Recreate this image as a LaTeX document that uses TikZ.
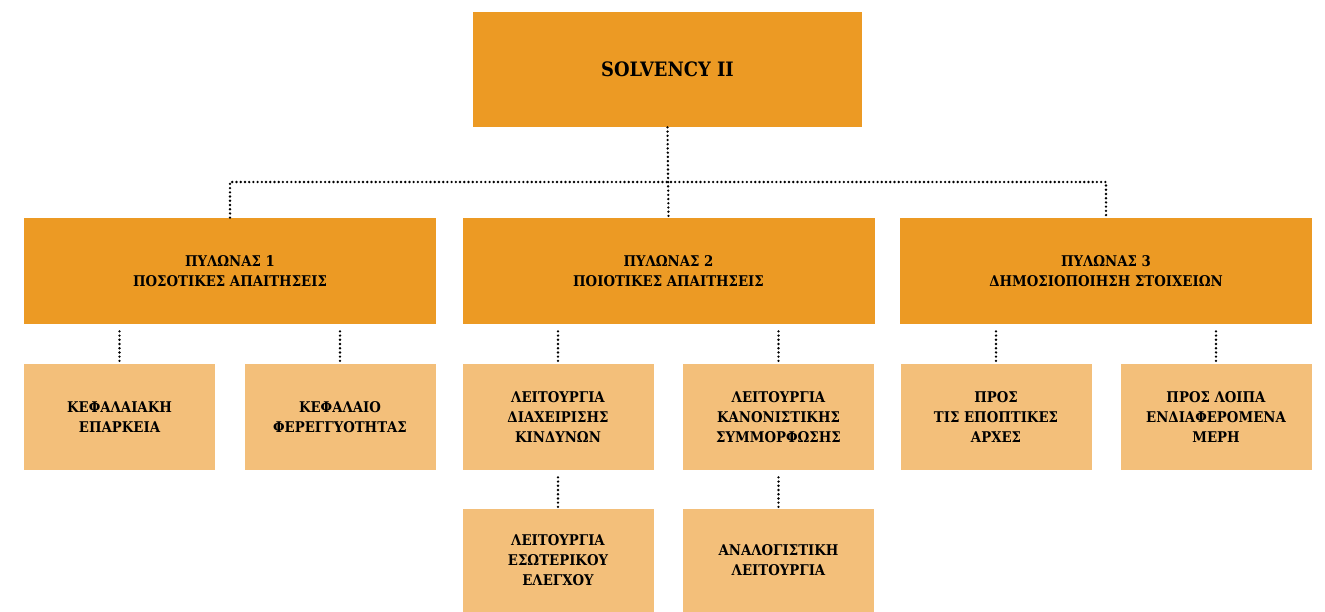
\documentclass[tikz,border=0pt]{standalone}
\usepackage{fontspec}
\setmainfont[FakeStretch=0.9]{DejaVu Serif}
\usetikzlibrary{positioning}
\definecolor{darkOrange}{RGB}{236,154,36}
\definecolor{lightOrange}{RGB}{243,191,122}
\tikzset{
  topbox/.style={fill=darkOrange, minimum width=7.78cm, minimum height=2.3cm, font=\bfseries\fontsize{11.3}{13}\selectfont},
  pillar/.style={fill=darkOrange, minimum width=8.24cm, minimum height=2.12cm, align=center, font=\bfseries\fontsize{8.4}{11.4}\selectfont},
  sub/.style={fill=lightOrange, minimum width=3.82cm, minimum height=2.12cm, align=center, font=\bfseries\fontsize{8.4}{11.4}\selectfont},
  link/.style={line width=1.5pt, line cap=round, dash pattern=on 0pt off 2.4pt}
}
\begin{document}
\begin{tikzpicture}
\useasboundingbox (0,0) rectangle (26.5,-12.24);

\node[topbox] (top) at (13.35,-1.39) {SOLVENCY II};

% pillars
\node[pillar] (p1) at (4.6,-5.42) {ΠΥΛΩΝΑΣ 1\\ΠΟΣΟΤΙΚΕΣ ΑΠΑΙΤΗΣΕΙΣ};
\node[pillar] (p2) at (13.37,-5.42) {ΠΥΛΩΝΑΣ 2\\ΠΟΙΟΤΙΚΕΣ ΑΠΑΙΤΗΣΕΙΣ};
\node[pillar] (p3) at (22.12,-5.42) {ΠΥΛΩΝΑΣ 3\\ΔΗΜΟΣΙΟΠΟΙΗΣΗ ΣΤΟΙΧΕΙΩΝ};

% first row
\node[sub] (kef) at (2.39,-8.34) {ΚΕΦΑΛΑΙΑΚΗ\\ΕΠΑΡΚΕΙΑ};
\node[sub] (fer) at (6.8,-8.34) {ΚΕΦΑΛΑΙΟ\\ΦΕΡΕΓΓΥΟΤΗΤΑΣ};
\node[sub] (kin) at (11.16,-8.34) {ΛΕΙΤΟΥΡΓΙΑ\\ΔΙΑΧΕΙΡΙΣΗΣ\\ΚΙΝΔΥΝΩΝ};
\node[sub] (sym) at (15.57,-8.34) {ΛΕΙΤΟΥΡΓΙΑ\\ΚΑΝΟΝΙΣΤΙΚΗΣ\\ΣΥΜΜΟΡΦΩΣΗΣ};
\node[sub] (epo) at (19.92,-8.34) {ΠΡΟΣ\\ΤΙΣ ΕΠΟΠΤΙΚΕΣ\\ΑΡΧΕΣ};
\node[sub] (loi) at (24.32,-8.34) {ΠΡΟΣ ΛΟΙΠΑ\\ΕΝΔΙΑΦΕΡΟΜΕΝΑ\\ΜΕΡΗ};

% second row
\node[sub, minimum height=2.06cm] (ele) at (11.16,-11.21) {ΛΕΙΤΟΥΡΓΙΑ\\ΕΣΩΤΕΡΙΚΟΥ\\ΕΛΕΓΧΟΥ};
\node[sub, minimum height=2.06cm] (ana) at (15.57,-11.21) {ΑΝΑΛΟΓΙΣΤΙΚΗ\\ΛΕΙΤΟΥΡΓΙΑ};

% connectors
\coordinate (bus) at (0,-3.64);
\draw[link] (top.south) -- (p2.north);
\draw[link] (p1.north) |- (bus -| p2.north) -| (p3.north);
\foreach \up/\down in {p1/kef, p1/fer, p2/kin, p2/sym, p3/epo, p3/loi, kin/ele, sym/ana}
  \draw[link] ([yshift=-0.14cm]\up.south -| \down.north) -- (\down.north);
\end{tikzpicture}
\end{document}
